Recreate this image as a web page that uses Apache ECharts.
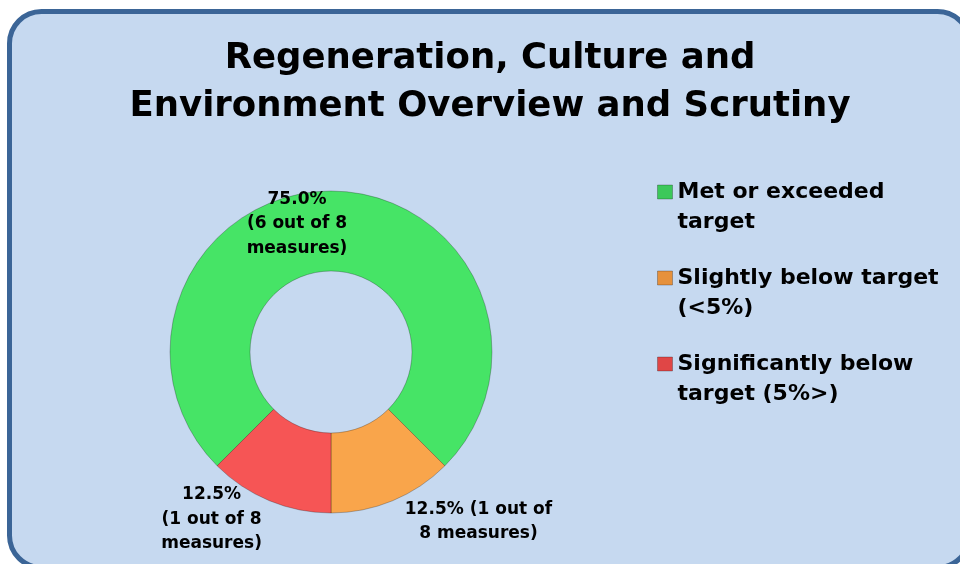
<!DOCTYPE html>
<html>
<head>
<meta charset="utf-8">
<script src="https://cdn.jsdelivr.net/npm/echarts@6/dist/echarts.min.js"></script>
<style>
html,body{margin:0;padding:0;background:#ffffff;}
#chart{width:960px;height:564px;}
</style>
</head>
<body>
<div id="chart"></div>
<script>
// ---- data ----
const titleText = "Regeneration, Culture and\nEnvironment Overview and Scrutiny";
const categories = [
  "Met or exceeded\ntarget",
  "Slightly below target\n(<5%)",
  "Significantly below\ntarget (5%>)"
];
const measureCounts = [6, 1, 1];
const sliceLabels = [
  "75.0%\n(6 out of 8\nmeasures)",
  "12.5% (1 out of\n8 measures)",
  "12.5%\n(1 out of 8\nmeasures)"
];
const sliceColors = ["#46e466", "#f9a54b", "#f65555"];
const iconColors = ["#3cc85a", "#e6913c", "#e04646"];
const labelOffsets = [[-34, -4], [100, 55], [-72, 53]];

const FONT = "DejaVu Sans";
const chart = echarts.init(document.getElementById('chart'), null, {renderer: 'canvas'});

const seriesData = categories.map((c, i) => ({
  name: c,
  value: measureCounts[i],
  itemStyle: {color: sliceColors[i]},
  label: {formatter: sliceLabels[i], offset: labelOffsets[i]}
}));

chart.setOption({
  animation: false,
  graphic: [{
    type: 'rect',
    z: -10,
    shape: {x: 9.5, y: 11.5, width: 960, height: 556, r: 32},
    style: {fill: '#c6d9f0', stroke: '#3b6597', lineWidth: 5}
  }],
  title: {
    text: titleText,
    left: 490,
    top: 35,
    padding: 0,
    textAlign: 'center',
    textStyle: {fontFamily: FONT, fontWeight: 'bold', fontSize: 35.5, lineHeight: 48, color: '#000'}
  },
  legend: {
    orient: 'vertical',
    left: 657,
    top: 147,
    padding: 0,
    itemGap: -4,
    itemWidth: 15,
    itemHeight: 14,
    icon: 'rect',
    formatter: name => '\n' + name,
    data: categories.map((c, i) => ({name: c, itemStyle: {color: iconColors[i], borderColor: 'rgba(0,0,0,0.25)', borderWidth: 1}})),
    textStyle: {fontFamily: FONT, fontWeight: 'bold', fontSize: 22, lineHeight: 30, color: '#000'}
  },
  series: [{
    type: 'pie',
    center: [331, 352],
    radius: [81, 161],
    startAngle: 225,
    clockwise: true,
    avoidLabelOverlap: false,
    data: seriesData,
    itemStyle: {borderColor: 'rgba(0,0,0,0.25)', borderWidth: 1},
    label: {
      show: true,
      position: 'inside',
      fontFamily: FONT,
      fontWeight: 'bold',
      fontSize: 17,
      lineHeight: 24.5,
      color: '#000',
      align: 'center'
    },
    labelLine: {show: false},
    emphasis: {disabled: true}
  }]
});
</script>
</body>
</html>
